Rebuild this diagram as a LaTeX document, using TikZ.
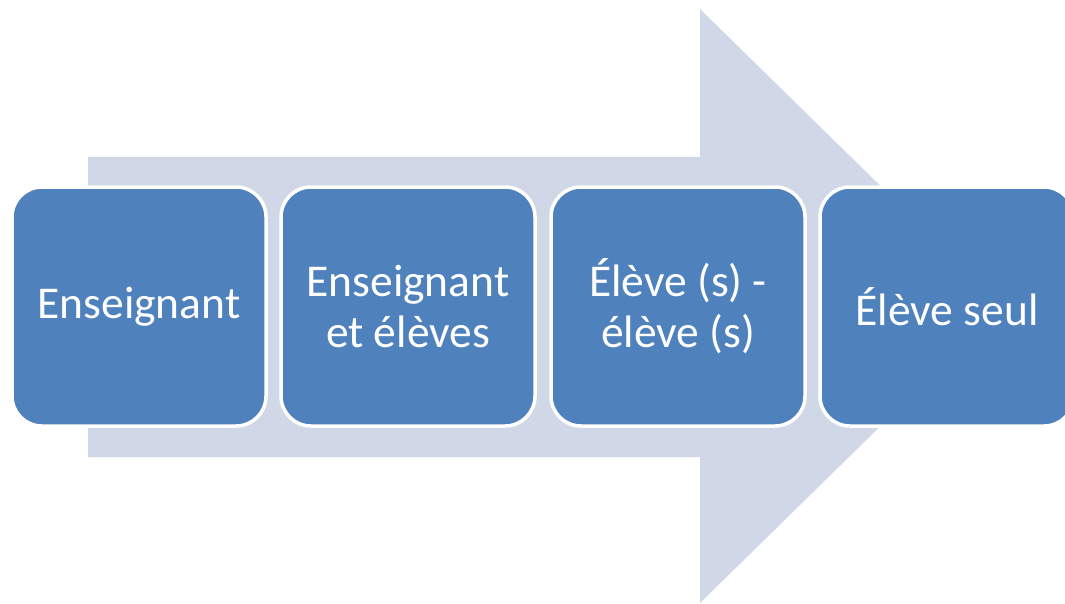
\documentclass[tikz,border=0pt]{standalone}
\usepackage{fontspec}
\setmainfont{Carlito}
\definecolor{stepblue}{HTML}{4F81BD}
\definecolor{arrowpale}{HTML}{D0D8E8}
\begin{document}
\begin{tikzpicture}[x=1pt,y=-1pt,
  stagebox/.style={rectangle, rounded corners=30pt, fill=stepblue, draw=white,
    line width=3.5pt, minimum width=254pt, minimum height=239pt,
    text=white, align=center, inner sep=0pt,
    font=\fontsize{45.5}{51}\selectfont}]
  \useasboundingbox (0,0) rectangle (1065,603);
  \clip (0,0) rectangle (1065,603);
  % wide background arrow
  \fill[arrowpale] (88,157) -- (700,157) -- (700,9) -- (1003,306)
    -- (700,603) -- (700,457) -- (88,457) -- cycle;
  % the four stages
  \node[stagebox] (s1) at (139,306.5) {Enseignant};
  \node[stagebox] (s2) at (408,306.5) {Enseignant\\et élèves};
  \node[stagebox] (s3) at (678,306.5) {Élève (s) -\\élève (s)};
  \node[stagebox] (s4) at (947,306.5) {Élève seul};
\end{tikzpicture}
\end{document}
